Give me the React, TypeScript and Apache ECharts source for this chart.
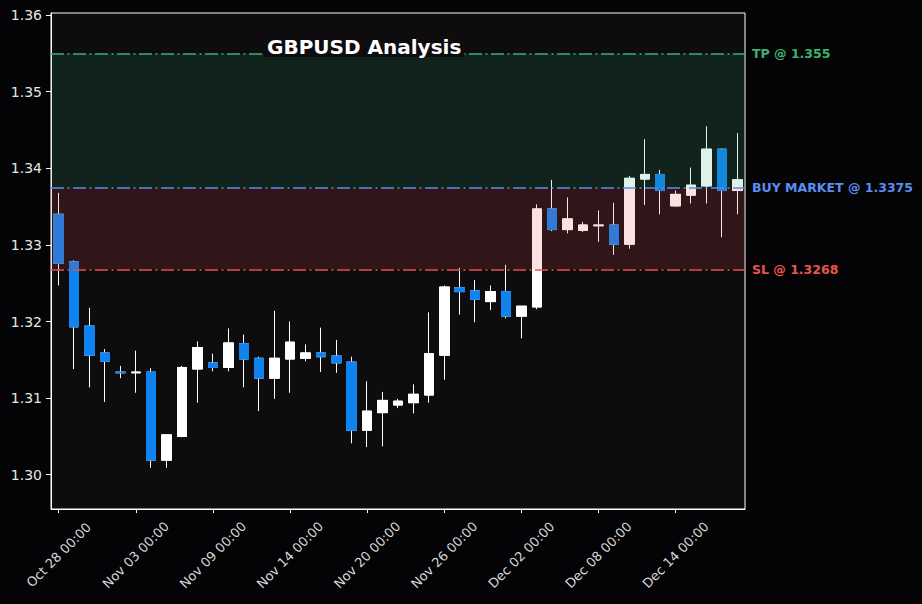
import React, { useEffect, useRef } from "react";
import * as echarts from "echarts";

const dates = [
  "Oct 28", "Oct 29", "Oct 30", "Oct 31", "Nov 02", "Nov 03", "Nov 04", "Nov 05", "Nov 06", "Nov 07",
  "Nov 09", "Nov 10", "Nov 11", "Nov 12", "Nov 13", "Nov 14", "Nov 16", "Nov 17", "Nov 18", "Nov 19",
  "Nov 20", "Nov 21", "Nov 23", "Nov 24", "Nov 25", "Nov 26", "Nov 27", "Nov 28", "Nov 30", "Dec 01",
  "Dec 02", "Dec 03", "Dec 04", "Dec 05", "Dec 07", "Dec 08", "Dec 09", "Dec 10", "Dec 11", "Dec 12",
  "Dec 14", "Dec 15", "Dec 16", "Dec 17", "Dec 18",
];

const opens = [
  1.3340, 1.3278, 1.3194, 1.3159, 1.3134, 1.3133, 1.3134, 1.3019, 1.3050, 1.3138,
  1.3146, 1.3140, 1.3171, 1.3152, 1.3126, 1.3151, 1.3152, 1.3159, 1.3155, 1.3147,
  1.3058, 1.3081, 1.3091, 1.3094, 1.3104, 1.3156, 1.3244, 1.3240, 1.3226, 1.3239,
  1.3207, 1.3219, 1.3347, 1.3320, 1.3319, 1.3325, 1.3326, 1.3301, 1.3386, 1.3392,
  1.3351, 1.3365, 1.3377, 1.3425, 1.3371,
];
const highs = [
  1.3368, 1.3280, 1.3218, 1.3164, 1.3142, 1.3162, 1.3139, 1.3052, 1.3142, 1.3174,
  1.3158, 1.3191, 1.3183, 1.3154, 1.3214, 1.3200, 1.3170, 1.3192, 1.3176, 1.3154,
  1.3122, 1.3108, 1.3099, 1.3118, 1.3212, 1.3247, 1.3270, 1.3254, 1.3247, 1.3274,
  1.3220, 1.3353, 1.3385, 1.3362, 1.3330, 1.3345, 1.3355, 1.3390, 1.3438, 1.3398,
  1.3371, 1.3401, 1.3455, 1.3426, 1.3446,
];
const lows = [
  1.3247, 1.3138, 1.3114, 1.3095, 1.3126, 1.3107, 1.3009, 1.3009, 1.3049, 1.3094,
  1.3135, 1.3135, 1.3114, 1.3083, 1.3099, 1.3107, 1.3148, 1.3134, 1.3133, 1.3041,
  1.3036, 1.3037, 1.3087, 1.3080, 1.3094, 1.3124, 1.3209, 1.3199, 1.3215, 1.3204,
  1.3178, 1.3216, 1.3318, 1.3315, 1.3317, 1.3304, 1.3287, 1.3295, 1.3352, 1.3340,
  1.3350, 1.3354, 1.3354, 1.3310, 1.3340,
];
const closes = [
  1.3276, 1.3193, 1.3156, 1.3148, 1.3133, 1.3134, 1.3019, 1.3052, 1.3140, 1.3166,
  1.3140, 1.3172, 1.3151, 1.3126, 1.3152, 1.3173, 1.3159, 1.3154, 1.3146, 1.3058,
  1.3083, 1.3097, 1.3096, 1.3105, 1.3158, 1.3245, 1.3239, 1.3229, 1.3239, 1.3207,
  1.3220, 1.3347, 1.3320, 1.3334, 1.3326, 1.3326, 1.3301, 1.3387, 1.3392, 1.3371,
  1.3366, 1.3378, 1.3425, 1.3371, 1.3385,
];

const yTicks = [1.30, 1.31, 1.32, 1.33, 1.34, 1.35, 1.36];
const Y_MIN = 1.29552;
const Y_MAX = 1.36028;

const TP = 1.355;
const ENTRY = 1.3375;
const SL = 1.3268;

const BG = "#040305";
const PLOT_BG = "#0e0c0f";
const UP = "#ffffff";
const DOWN = "#0f83f0";

export default function App() {
  const ref = useRef<HTMLDivElement>(null);

  useEffect(() => {
    if (!ref.current) return;
    const chart = echarts.init(ref.current, null, { renderer: "svg" });

    const labels = dates.map((d) => d + " 00:00");
    const wickData = dates.map((_, i) => [opens[i], closes[i], lows[i], highs[i]]);
    const bodyData = dates.map((_, i) => [
      opens[i],
      closes[i],
      Math.min(opens[i], closes[i]),
      Math.max(opens[i], closes[i]),
    ]);

    const dashDot = [13, 3.5, 2, 3.5];
    const lineLabel = (text: string, color: string) => ({
      show: true,
      position: "end",
      distance: 7,
      formatter: text,
      color,
      fontFamily: "DejaVu Sans",
      fontWeight: "bold",
      fontSize: 12.5,
    });

    chart.setOption({
      animation: false,
      backgroundColor: BG,
      title: {
        text: "GBPUSD Analysis",
        left: 264,
        top: 38,
        padding: [0, 3],
        backgroundColor: PLOT_BG,
        z: 30,
        textStyle: {
          color: "#ffffff",
          fontFamily: "DejaVu Sans",
          fontWeight: "bold",
          fontSize: 20,
          lineHeight: 18,
        },
      },
      grid: {
        left: 51,
        right: 177,
        top: 13,
        bottom: 95,
        show: true,
        backgroundColor: PLOT_BG,
        borderColor: "#ffffff",
        borderWidth: 1,
        containLabel: false,
        outerBoundsMode: "none",
      },
      xAxis: {
        type: "category",
        data: labels,
        boundaryGap: true,
        axisLine: { show: true, lineStyle: { color: "#ffffff", width: 1 } },
        axisTick: {
          show: true,
          alignWithLabel: true,
          length: 4,
          interval: (i: number) => i % 5 === 0,
          lineStyle: { color: "#ffffff" },
        },
        axisLabel: {
          interval: (i: number) => i % 5 === 0,
          rotate: 45,
          align: "center",
          verticalAlign: "middle",
          margin: 46,
          color: "#d8d8d8",
          fontFamily: "DejaVu Sans",
          fontSize: 13,
        },
        splitLine: { show: false },
      },
      yAxis: {
        type: "value",
        min: Y_MIN,
        max: Y_MAX,
        scale: true,
        axisLine: { show: true, lineStyle: { color: "#ffffff", width: 1 } },
        axisTick: {
          show: true,
          length: 5,
          customValues: yTicks,
          lineStyle: { color: "#ffffff" },
        },
        axisLabel: {
          customValues: yTicks,
          formatter: (v: number) => v.toFixed(2),
          margin: 9,
          color: "#e6e6e6",
          fontFamily: "DejaVu Sans",
          fontSize: 14,
        },
        splitLine: { show: false },
      },
      series: [
        {
          name: "wicks",
          type: "candlestick",
          data: wickData,
          barWidth: 10,
          z: 2,
          itemStyle: {
            color: UP,
            color0: UP,
            borderColor: UP,
            borderColor0: UP,
            borderWidth: 1,
          },
          silent: true,
        },
        {
          name: "bodies",
          type: "candlestick",
          data: bodyData,
          barWidth: 10,
          z: 3,
          itemStyle: {
            color: UP,
            color0: DOWN,
            borderColor: UP,
            borderColor0: DOWN,
            borderWidth: 1,
          },
          silent: true,
        },
        {
          name: "levels",
          type: "line",
          data: [],
          z: 10,
          silent: true,
          markArea: {
            silent: true,
            z: 10,
            data: [
              [
                { yAxis: ENTRY, itemStyle: { color: "rgba(35,170,108,0.15)" } },
                { yAxis: TP },
              ],
              [
                { yAxis: SL, itemStyle: { color: "rgba(230,74,72,0.16)" } },
                { yAxis: ENTRY },
              ],
            ],
          },
          markLine: {
            silent: true,
            z: 11,
            precision: 5,
            symbol: ["none", "none"],
            data: [
              {
                yAxis: TP,
                lineStyle: { color: "#3fae72", width: 1.6, type: dashDot },
                label: lineLabel("TP @ 1.355", "#3cb371"),
              },
              {
                yAxis: ENTRY,
                lineStyle: { color: "#5b8de8", width: 1.6, type: dashDot },
                label: lineLabel("BUY MARKET @ 1.3375", "#5a8ef0"),
              },
              {
                yAxis: SL,
                lineStyle: { color: "#e5534b", width: 1.6, type: dashDot },
                label: lineLabel("SL @ 1.3268", "#e8554e"),
              },
            ],
          },
        },
      ],
    });

    return () => chart.dispose();
  }, []);

  return (
    <div
      ref={ref}
      style={{ position: "fixed", left: 0, top: 0, width: 922, height: 604 }}
    />
  );
}
